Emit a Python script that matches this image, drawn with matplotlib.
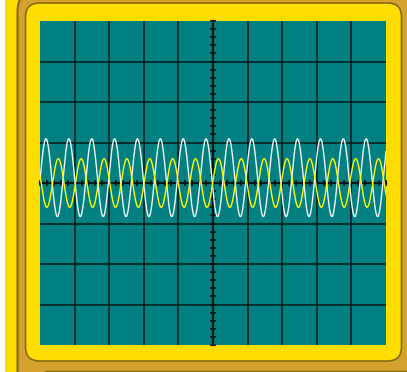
import numpy as np
import matplotlib
matplotlib.use('Agg')
import matplotlib.pyplot as plt
from matplotlib.patches import FancyBboxPatch, Rectangle
from matplotlib.ticker import FixedLocator, MultipleLocator

# scope traces, in screen divisions (10 x 8 grid)
channels = ['CH1', 'CH2']
amplitudes = [0.96, 0.60]
offsets = [0.13, 0.0]
periods = [0.661, 0.661]
first_peaks = [0.173, 0.529]
trace_colors = ['#f2f6f6', '#ffff00']

W, H = 407, 372
yellow = '#ffdd00'
gold = '#d4a22c'
dark_gold = '#8a6a10'
teal = '#008080'

fig = plt.figure(figsize=(W / 100, H / 100), dpi=100)
fig.patch.set_facecolor(yellow)

# bezel drawn in pixel coordinates
bg = fig.add_axes([0, 0, 1, 1])
bg.set_xlim(0, W)
bg.set_ylim(H, 0)
bg.axis('off')
bg.add_patch(Rectangle((0, 0), 5, H, facecolor='white', edgecolor='none'))
bg.add_patch(FancyBboxPatch((17.5, -12), 430, 420,
                            boxstyle='round,pad=0,rounding_size=24',
                            facecolor=gold, edgecolor=dark_gold, lw=1.5))
bg.add_patch(FancyBboxPatch((25.5, 3), 376, 358,
                            boxstyle='round,pad=0,rounding_size=14',
                            facecolor=yellow, edgecolor=dark_gold, lw=1.2))
bg.add_patch(Rectangle((45, 370.5), 400, 10, facecolor=yellow,
                       edgecolor=dark_gold, lw=1))

# screen
ax = fig.add_axes([40 / W, (H - 345) / H, 346 / W, 324 / H])
ax.set_facecolor(teal)
ax.set_xlim(0, 10)
ax.set_ylim(-4, 4)

u = np.linspace(0, 10, 3000)
for name, amp, off, per, pk, col in zip(channels, amplitudes, offsets,
                                        periods, first_peaks, trace_colors):
    ax.plot(u, off + amp * np.cos(2 * np.pi * (u - pk) / per),
            color=col, lw=1.0, label=name, zorder=3)

ax.spines['top'].set_visible(False)
ax.spines['right'].set_visible(False)
ax.spines['left'].set_position(('data', 5))
ax.spines['bottom'].set_position(('data', 0))
for s in ('left', 'bottom'):
    ax.spines[s].set_linewidth(1.6)
    ax.spines[s].set_color('#001818')
    ax.spines[s].set_zorder(2)

ax.xaxis.set_major_locator(FixedLocator(range(1, 10)))
ax.yaxis.set_major_locator(FixedLocator(range(-3, 4)))
ax.xaxis.set_minor_locator(MultipleLocator(0.2))
ax.yaxis.set_minor_locator(MultipleLocator(0.2))
ax.tick_params(which='both', direction='inout', length=4.5, width=1.2,
               color='#001818', labelbottom=False, labelleft=False)
ax.grid(which='major', color='#001a1a', lw=1.1)
ax.set_axisbelow(True)

fig.savefig('out.png', dpi=100, facecolor=yellow)
